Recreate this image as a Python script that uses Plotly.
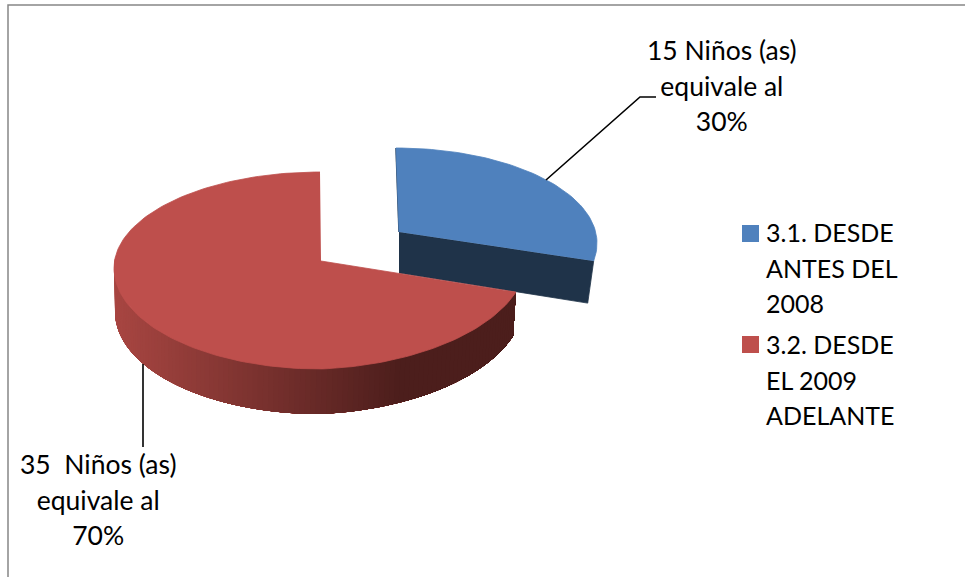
import numpy as np
import plotly.graph_objects as go

# --- data ---
categories = ["3.1. DESDE<br>ANTES DEL<br>2008", "3.2. DESDE<br>EL 2009<br>ADELANTE"]
counts = [15, 35]
percents = [30, 70]
label_texts = ["15 Niños (as)<br>equivale al<br>30%", "35\u00a0 Niños (as)<br>equivale al<br>70%"]

# --- style ---
BLUE, RED = "#4F81BD", "#BE4F4C"
NAVY = "#1F3349"
W, H = 965, 577
FS_LABEL, FS_LEGEND, FS_BOX = 26.5, 25, 27.4


def sized(text, fs):
    return "<br>".join(f'<span style="font-size:{fs}px">{t}</span>' for t in text.split("<br>"))


def rim(theta, cx, cy, rx, ry_top, ry_bot, tilt=0.0):
    """Projected pie rim; theta in degrees, clockwise from 12 o'clock."""
    t = np.radians(theta)
    c, s = np.cos(t), np.sin(t)
    y = cy - np.where(c > 0, ry_top, ry_bot) * c - tilt * np.clip(s, 0, None)
    return cx + rx * s, y


total = sum(counts)
split = 360 * counts[0] / total   # blue slice: 0..split, red slice: split..360

BLUE_TOP = dict(cx=396, cy=243, rx=201, ry_top=95, ry_bot=100)
BLUE_BOT = dict(cx=393, cy=285, rx=198, ry_top=95, ry_bot=100)
BLUE_APEX, BLUE_APEX_DEPTH = (399, 232), 41
BLUE_VIEW = 0.93  # perspective compression of the exploded slice
RED_TOP = dict(cx=320, cy=268, rx=206, ry_top=96, ry_bot=101, tilt=7.5)
RED_BOT = dict(cx=319, cy=312, rx=204, ry_top=96, ry_bot=102, tilt=8)
RED_APEX = (321, 261)

fig = go.Figure()


def poly(xs, ys, color, width=0.8):
    fig.add_trace(go.Scatter(x=list(xs), y=list(ys), mode="lines", fill="toself", fillcolor=color,
                             line=dict(color=color, width=width), hoverinfo="skip", showlegend=False))


# blue slice: cut face then top
tip = split * BLUE_VIEW
tx, ty = rim(np.array([tip]), **BLUE_TOP)
bx, by = rim(np.array([tip]), **BLUE_BOT)
poly([BLUE_APEX[0], tx[0], bx[0], BLUE_APEX[0]],
     [BLUE_APEX[1], ty[0], by[0], BLUE_APEX[1] + BLUE_APEX_DEPTH], NAVY)
th = np.linspace(0, tip, 60)
rx_, ry_ = rim(th, **BLUE_TOP)
fig.add_trace(go.Scatter(x=[rx_[0], BLUE_APEX[0]], y=[ry_[0], BLUE_APEX[1]], mode="lines",
                         line=dict(color=NAVY, width=1.5), hoverinfo="skip", showlegend=False))
poly(np.r_[BLUE_APEX[0], rx_], np.r_[BLUE_APEX[1], ry_], BLUE)

# red slice: shaded outer wall, painted left to right as overlapping layers, then top
dark, light = np.array([0x4C, 0x1E, 0x1C]), np.array([0xA8, 0x46, 0x42])
for end in np.arange(277, split, -1.5):
    seg = np.linspace(split, end, 120)
    x1, y1 = rim(seg, **RED_TOP)
    x2, y2 = rim(seg, **RED_BOT)
    f = np.clip((400 - x1[-1]) / (400 - 115), 0, 1)
    col = dark + (light - dark) * f
    poly(np.r_[x1, x2[::-1]], np.r_[y1, y2[::-1]], "rgb(%d,%d,%d)" % tuple(col), width=0)
th = np.linspace(split, 360, 160)
rx_, ry_ = rim(th, **RED_TOP)
poly(np.r_[RED_APEX[0], rx_], np.r_[RED_APEX[1], ry_], RED)

# legend swatches
fig.add_trace(go.Scatter(x=[750.5, 750.5], y=[233.5, 344.5], mode="markers", hoverinfo="skip", showlegend=False,
                         marker=dict(symbol="square", size=17, color=[BLUE, RED], line=dict(width=0))))

# leader lines and chart border
shapes = [
    dict(type="path", path="M546,180 L640,97 L656,97", line=dict(color="black", width=1.6)),
    dict(type="line", x0=143, x1=143, y0=364, y1=447, line=dict(color="black", width=1.6)),
    dict(type="path", path="M8,577 L8,5 L965,5", line=dict(color="#868686", width=1.5)),
]

annotations = [
    dict(x=722, y=85.5, text=sized(label_texts[0], FS_LABEL), xanchor="center", align="center"),
    dict(x=98, y=499, text=sized(label_texts[1], FS_LABEL), xanchor="center", align="center"),
    dict(x=765, y=267, text=sized(categories[0], FS_LEGEND), xanchor="left", align="left"),
    dict(x=765, y=379, text=sized(categories[1], FS_LEGEND), xanchor="left", align="left"),
]
for a in annotations:
    a.update(xref="x", yref="y", showarrow=False, yanchor="middle", borderpad=0,
             font=dict(size=FS_BOX, family="Lato", color="black"))

fig.update_layout(
    width=W, height=H, margin=dict(l=0, r=0, t=0, b=0),
    paper_bgcolor="white", plot_bgcolor="white",
    xaxis=dict(range=[0, W], visible=False, fixedrange=True),
    yaxis=dict(range=[H, 0], visible=False, fixedrange=True),
    shapes=shapes, annotations=annotations,
    font=dict(family="Lato", color="black"),
    showlegend=False,
)
fig.write_html("out.html", post_script="document.body.style.margin='0';document.documentElement.style.overflow='hidden';",
               config=dict(displayModeBar=False))
